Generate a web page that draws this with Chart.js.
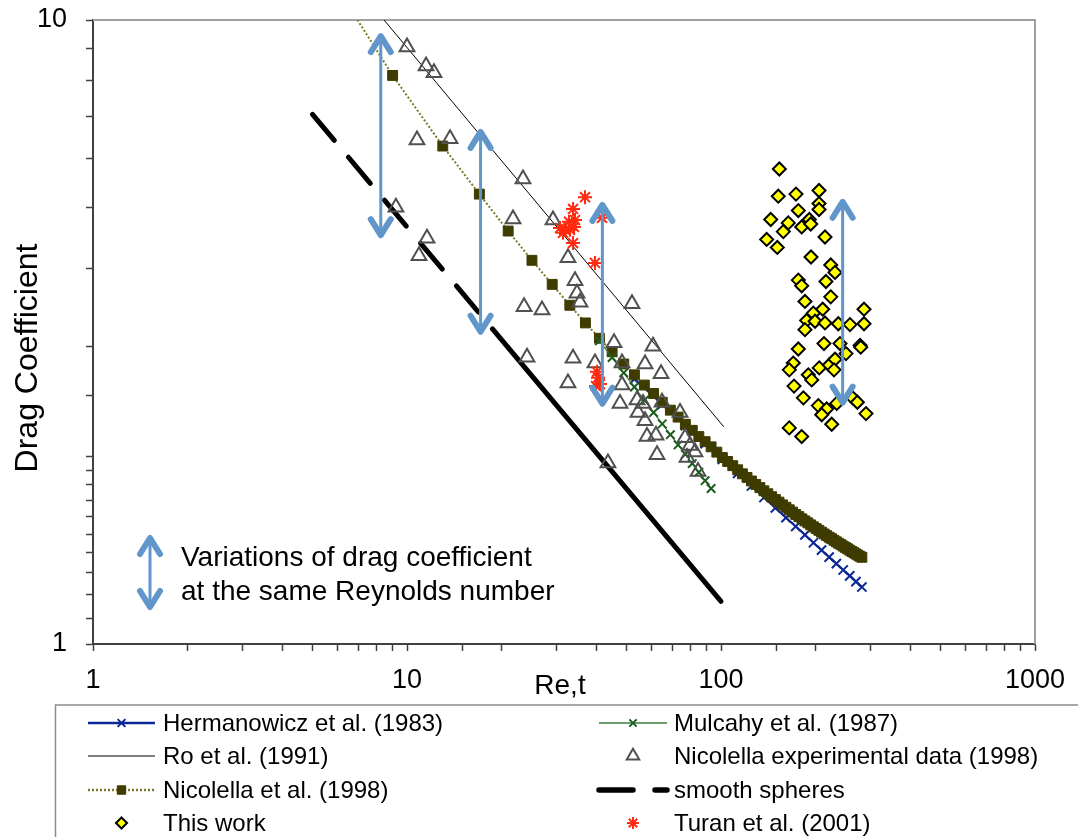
<!DOCTYPE html>
<html>
<head>
<meta charset="utf-8">
<title>Drag coefficient vs Reynolds number</title>
<script src="https://cdn.jsdelivr.net/npm/chart.js@4/dist/chart.umd.min.js"></script>
<style>
  html, body { margin: 0; padding: 0; background: #fff; }
  #wrap { width: 1078px; height: 837px; }
</style>
</head>
<body>
<div id="wrap"><canvas id="dragChart" width="1078" height="837"></canvas></div>
<script>
// Drag coefficient of bioparticles against terminal Reynolds number

// Hermanowicz et al. (1983)
var hermanowiczRe = [53, 65, 77, 89, 101, 113, 125, 137, 149, 161, 173, 185, 197, 209, 221, 233, 245, 257, 269, 281];
var hermanowiczCd = [2.658, 2.420, 2.238, 2.094, 1.976, 1.877, 1.791, 1.717, 1.652, 1.594, 1.543, 1.496, 1.453, 1.414, 1.378, 1.345, 1.314, 1.286, 1.259, 1.234];

// Mulcahy et al. (1987)
var mulcahyRe = [41, 45, 49, 53, 57, 61, 65, 69, 73, 77, 81, 85, 89, 93];
var mulcahyCd = [3.06, 2.878, 2.720, 2.581, 2.459, 2.350, 2.253, 2.165, 2.085, 2.013, 1.946, 1.885, 1.827, 1.775];

// Ro et al. (1991)
var roRe = [8.45, 102];
var roCd = [10.0, 2.23];

// Nicolella et al. (1998) correlation
var nicolellaRe = [5, 9, 13, 17, 21, 25, 29, 33, 37, 41, 45, 49, 53, 57, 61, 65, 69, 73, 77, 81, 85, 89, 93, 97,
  101, 105, 109, 113, 117, 121, 125, 129, 133, 137, 141, 145, 149, 153, 157, 161, 165, 169, 173, 177, 181, 185,
  189, 193, 197, 201, 205, 209, 213, 217, 221, 225, 229, 233, 237, 241, 245, 249, 253, 257, 261, 265, 269, 273, 277, 281];
var nicolellaCd = [13.0, 8.15, 6.28, 5.26, 4.59, 4.12, 3.77, 3.49, 3.27, 3.09, 2.94, 2.81, 2.70, 2.60, 2.52, 2.44,
  2.37, 2.31, 2.25, 2.20, 2.15, 2.11, 2.07, 2.03, 1.99, 1.961, 1.931, 1.902, 1.874, 1.849, 1.825, 1.802, 1.781,
  1.760, 1.741, 1.722, 1.704, 1.688, 1.671, 1.656, 1.641, 1.627, 1.613, 1.600, 1.587, 1.575, 1.564, 1.552, 1.541,
  1.531, 1.521, 1.511, 1.501, 1.492, 1.483, 1.475, 1.466, 1.458, 1.450, 1.443, 1.435, 1.428, 1.421, 1.414, 1.407,
  1.401, 1.394, 1.388, 1.382, 1.377];

// Nicolella experimental data (1998)
var nicExpRe = [10.0, 11.50, 12.19, 10.76, 13.71, 23.41, 9.22, 21.76, 29.17, 11.58, 10.92, 32.56, 34.28, 34.78,
  35.56, 23.59, 26.91, 52.06, 24.11, 33.79, 39.69, 45.63, 60.73, 48.39, 57.28, 64.43, 32.56, 48.39, 47.69, 54.02,
  56.44, 54.41, 64.90, 74.04, 57.28, 58.12, 62.09, 62.55, 76.81, 79.67, 82.64, 77.95, 84.49, 43.66];
var nicExpCd = [9.05, 8.44, 8.23, 6.42, 6.45, 5.56, 5.01, 4.80, 4.78, 4.47, 4.19, 4.16, 3.82, 3.65,
  3.53, 3.47, 3.43, 3.51, 2.88, 2.87, 2.82, 3.04, 3.00, 2.82, 2.81, 2.71, 2.62, 2.60, 2.43, 2.46,
  2.43, 2.35, 2.44, 2.35, 2.28, 2.15, 2.16, 2.01, 2.14, 2.08, 2.03, 1.99, 1.89, 1.95];

// smooth spheres
var smoothRe = [5, 21, 100];
var smoothCd = [7.06, 2.985, 1.17];

// this work
var thisWorkRe = [153.4, 152.2, 173.3, 205.2, 205.2, 205.2, 176.3, 144.0, 163.8, 180.7, 191.1, 193.1, 157.9, 139.8,
  151.1, 214.4, 193.5, 223.6, 230.7, 176.3, 180.7, 215.9, 223.6, 185.1, 196.8, 210.8, 187.4, 199.3, 214.4, 236.4,
  257.5, 285.4, 285.4, 185.1, 212.8, 239.3, 250.1, 277.2, 278.6, 176.3, 169.9, 165.0, 189.7, 194.5, 205.6, 221.3,
  230.7, 229.0, 170.8, 182.9, 204.1, 217.0, 209.3, 225.2, 233.7, 262.7, 271.8, 289.6, 165.0, 180.7];
var thisWorkCd = [5.77, 5.22, 5.26, 5.33, 5.08, 4.97, 4.95, 4.79, 4.73, 4.66, 4.79, 4.71, 4.58, 4.45,
  4.32, 4.49, 4.17, 4.05, 3.94, 3.83, 3.75, 3.81, 3.60, 3.54, 3.39, 3.44, 3.30, 3.29, 3.27, 3.26,
  3.25, 3.44, 3.26, 3.19, 3.03, 3.03, 2.92, 3.01, 2.99, 2.97, 2.82, 2.75, 2.70, 2.65, 2.77, 2.80,
  2.86, 2.75, 2.59, 2.48, 2.41, 2.38, 2.33, 2.25, 2.43, 2.48, 2.44, 2.34, 2.22, 2.15];

// Turan et al. (2001)
var turanRe = [36.89, 33.79, 34.28, 32.81, 30.71, 31.86, 33.04, 34.03, 31.40, 33.79, 39.69, 41.78, 40.28, 40.57, 41.17, 39.99];
var turanCd = [5.20, 4.98, 4.78, 4.75, 4.64, 4.61, 4.61, 4.66, 4.56, 4.39, 4.08, 4.82, 2.73, 2.67, 2.61, 2.59];

// spread of Cd at a given Re (double arrows)
var spreadRe = [8.25, 17.15, 41.9, 244];
var spreadTop = [9.53, 6.69, 5.11, 5.17];
var spreadBottom = [4.47, 3.13, 2.40, 2.41];

var FONT = '"Liberation Sans", Arial, sans-serif';
var ARROW_COLOR = '#6196ca';

function pairs(xs, ys) {
    return xs.map(function(x, i) { return { x: x, y: ys[i] }; });
}

// only label the decades
function decadeLabel(value) {
    var l = Math.log10(value);
    return Math.abs(l - Math.round(l)) < 1e-9 ? String(value) : '';
}

function drawDoubleArrow(ctx, x, yTop, yBot) {
    ctx.save();
    ctx.strokeStyle = ARROW_COLOR;
    ctx.lineCap = 'round';
    ctx.lineJoin = 'round';
    ctx.lineWidth = 3;
    ctx.beginPath();
    ctx.moveTo(x, yTop + 3);
    ctx.lineTo(x, yBot - 3);
    ctx.stroke();
    ctx.lineWidth = 6;
    ctx.beginPath();
    ctx.moveTo(x - 10, yTop + 19);
    ctx.lineTo(x, yTop + 3);
    ctx.lineTo(x + 10, yTop + 19);
    ctx.moveTo(x - 10, yBot - 19);
    ctx.lineTo(x, yBot - 3);
    ctx.lineTo(x + 10, yBot - 19);
    ctx.stroke();
    ctx.restore();
}

var datasets = [
    {
        label: 'This work', data: pairs(thisWorkRe, thisWorkCd), showLine: false,
        pointStyle: 'rectRot', pointRadius: 6.5, pointBackgroundColor: '#ffff00',
        pointBorderColor: '#000000', pointBorderWidth: 2, order: 1
    },
    {
        label: 'Turan et al. (2001)', data: pairs(turanRe, turanCd), showLine: false,
        pointStyle: 'star', pointRadius: 7, pointBackgroundColor: '#ff2a10',
        pointBorderColor: '#ff2a10', pointBorderWidth: 2, order: 2
    },
    {
        label: 'Nicolella experimental data (1998)', data: pairs(nicExpRe, nicExpCd), showLine: false,
        pointStyle: 'triangle', pointRadius: 8.5, pointBackgroundColor: 'rgba(0,0,0,0)',
        pointBorderColor: '#505050', pointBorderWidth: 2, order: 3
    },
    {
        label: 'Mulcahy et al. (1987)', data: pairs(mulcahyRe, mulcahyCd), showLine: true,
        borderColor: '#3c7a3c', borderWidth: 1.2,
        pointStyle: 'crossRot', pointRadius: 6, pointBackgroundColor: '#1b5e1b',
        pointBorderColor: '#1b5e1b', pointBorderWidth: 2, order: 4
    },
    {
        label: 'Nicolella et al. (1998)', data: pairs(nicolellaRe, nicolellaCd), showLine: true,
        borderColor: '#7c7a2c', borderWidth: 2, borderDash: [2, 2],
        pointStyle: 'rect', pointRadius: 7, pointBackgroundColor: '#3f3c00',
        pointBorderColor: '#3f3c00', pointBorderWidth: 1, clip: 0, order: 5
    },
    {
        label: 'Hermanowicz et al. (1983)', data: pairs(hermanowiczRe, hermanowiczCd), showLine: true,
        borderColor: '#0c2896', borderWidth: 2,
        pointStyle: 'crossRot', pointRadius: 6.5, pointBackgroundColor: '#0c2896',
        pointBorderColor: '#0c2896', pointBorderWidth: 2, order: 6
    },
    {
        label: 'Ro et al. (1991)', data: pairs(roRe, roCd), showLine: true,
        borderColor: '#000000', borderWidth: 1, pointRadius: 0, clip: 0, order: 7
    },
    {
        label: 'smooth spheres', data: pairs(smoothRe, smoothCd), showLine: true,
        borderColor: '#000000', borderWidth: 5, borderCapStyle: 'round', pointRadius: 0,
        legendDash: [34, 22],
        segment: {
            borderDash: function(ctx) { return ctx.p0.parsed.x < 20 ? [34, 22] : undefined; }
        },
        order: 8
    }
];

// two-column legend below the plot
var legendRows = [723, 756, 790, 823];
var legendCols = [{ x0: 88, x1: 155, tx: 163 }, { x0: 599, x1: 667, tx: 674 }];
var legendOrder = [
    ['Hermanowicz et al. (1983)', 'Mulcahy et al. (1987)'],
    ['Ro et al. (1991)', 'Nicolella experimental data (1998)'],
    ['Nicolella et al. (1998)', 'smooth spheres'],
    ['This work', 'Turan et al. (2001)']
];

var framePlugin = {
    id: 'frame',
    beforeDatasetsDraw: function(chart) {
        var ctx = chart.ctx, a = chart.chartArea;
        ctx.save();
        ctx.strokeStyle = '#a0a0a0';
        ctx.lineWidth = 2;
        ctx.beginPath();
        ctx.moveTo(a.left, a.top);
        ctx.lineTo(a.right, a.top);
        ctx.lineTo(a.right, a.bottom);
        ctx.stroke();
        ctx.restore();
    }
};

var annotationPlugin = {
    id: 'annotations',
    afterDatasetsDraw: function(chart) {
        var ctx = chart.ctx, xs = chart.scales.x, ys = chart.scales.y, a = chart.chartArea;
        for (var i = 0; i < spreadRe.length; i++) {
            drawDoubleArrow(ctx, xs.getPixelForValue(spreadRe[i]),
                ys.getPixelForValue(spreadTop[i]), ys.getPixelForValue(spreadBottom[i]));
        }
        drawDoubleArrow(ctx, a.left + 57, 535, 610);
        ctx.save();
        ctx.fillStyle = '#000';
        ctx.font = '28px ' + FONT;
        ctx.textAlign = 'left';
        ctx.textBaseline = 'alphabetic';
        ctx.fillText('Variations of drag coefficient', a.left + 88, 566);
        ctx.fillText('at the same Reynolds number', a.left + 88, 600);
        ctx.restore();
    },
    afterDraw: function(chart) {
        var ctx = chart.ctx;
        ctx.save();
        ctx.fillStyle = '#000';
        // axis titles
        ctx.font = '28px ' + FONT;
        ctx.textAlign = 'center';
        ctx.textBaseline = 'alphabetic';
        ctx.fillText('Re,t', 560, 694);
        ctx.translate(37, 358);
        ctx.rotate(-Math.PI / 2);
        ctx.font = '32px ' + FONT;
        ctx.fillText('Drag Coefficient', 0, 0);
        ctx.restore();

        // legend box
        ctx.save();
        ctx.strokeStyle = '#8c8c8c';
        ctx.lineWidth = 1.5;
        ctx.beginPath();
        ctx.moveTo(55.5, 840);
        ctx.lineTo(55.5, 705);
        ctx.lineTo(1080, 705);
        ctx.stroke();
        ctx.restore();

        legendOrder.forEach(function(row, r) {
            row.forEach(function(label, c) {
                var ds = chart.data.datasets.find(function(d) { return d.label === label; });
                var col = legendCols[c], y = legendRows[r];
                ctx.save();
                if (ds.showLine) {
                    ctx.strokeStyle = ds.borderColor;
                    ctx.lineWidth = ds.borderWidth === 1 ? 1 : ds.borderWidth + 0.5;
                    ctx.lineCap = ds.borderCapStyle || 'butt';
                    ctx.setLineDash(ds.legendDash || ds.borderDash || []);
                    ctx.beginPath();
                    ctx.moveTo(col.x0, y);
                    ctx.lineTo(col.x1, y);
                    ctx.stroke();
                    ctx.setLineDash([]);
                }
                if (ds.pointRadius > 0) {
                    ctx.fillStyle = ds.pointBackgroundColor;
                    ctx.strokeStyle = ds.pointBorderColor;
                    ctx.lineWidth = ds.pointBorderWidth;
                    Chart.helpers.drawPoint(ctx, {
                        pointStyle: ds.pointStyle, rotation: 0,
                        radius: ds.pointRadius * 0.85, borderWidth: ds.pointBorderWidth
                    }, (col.x0 + col.x1) / 2, y);
                }
                ctx.fillStyle = '#000';
                ctx.font = '24px ' + FONT;
                ctx.textAlign = 'left';
                ctx.textBaseline = 'middle';
                ctx.fillText(label, col.tx, y + 1);
                ctx.restore();
            });
        });
    }
};

var axisTicks = {
    autoSkip: false, maxRotation: 0, color: '#000',
    font: { family: FONT, size: 27 }, callback: decadeLabel
};

// keep the plot box fixed; tick labels may spill into the margins
function noScalePadding(scale) {
    scale.paddingTop = 0;
    scale.paddingBottom = 0;
    scale.paddingLeft = 0;
    scale.paddingRight = 0;
}

new Chart(document.getElementById('dragChart').getContext('2d'), {
    type: 'scatter',
    data: { datasets: datasets },
    options: {
        responsive: false,
        animation: false,
        events: [],
        layout: { padding: { left: 0, right: 43, top: 20, bottom: 0 } },
        plugins: { legend: { display: false }, tooltip: { enabled: false } },
        scales: {
            x: {
                type: 'logarithmic', min: 1, max: 1000, position: 'bottom',
                border: { color: '#404040', width: 2 },
                grid: { drawOnChartArea: false, drawTicks: true, tickLength: 7, tickColor: '#404040', tickWidth: 1.5 },
                ticks: Object.assign({ padding: 13 }, axisTicks),
                afterFit: function(scale) { scale.height = 193; noScalePadding(scale); }
            },
            y: {
                type: 'logarithmic', min: 1, max: 10, position: 'left',
                border: { color: '#404040', width: 2 },
                grid: { drawOnChartArea: false, drawTicks: true, tickLength: 7, tickColor: '#404040', tickWidth: 1.5 },
                ticks: Object.assign({ padding: 19 }, axisTicks),
                afterFit: function(scale) { scale.width = 93; noScalePadding(scale); }
            }
        }
    },
    plugins: [framePlugin, annotationPlugin]
});
</script>
</body>
</html>
